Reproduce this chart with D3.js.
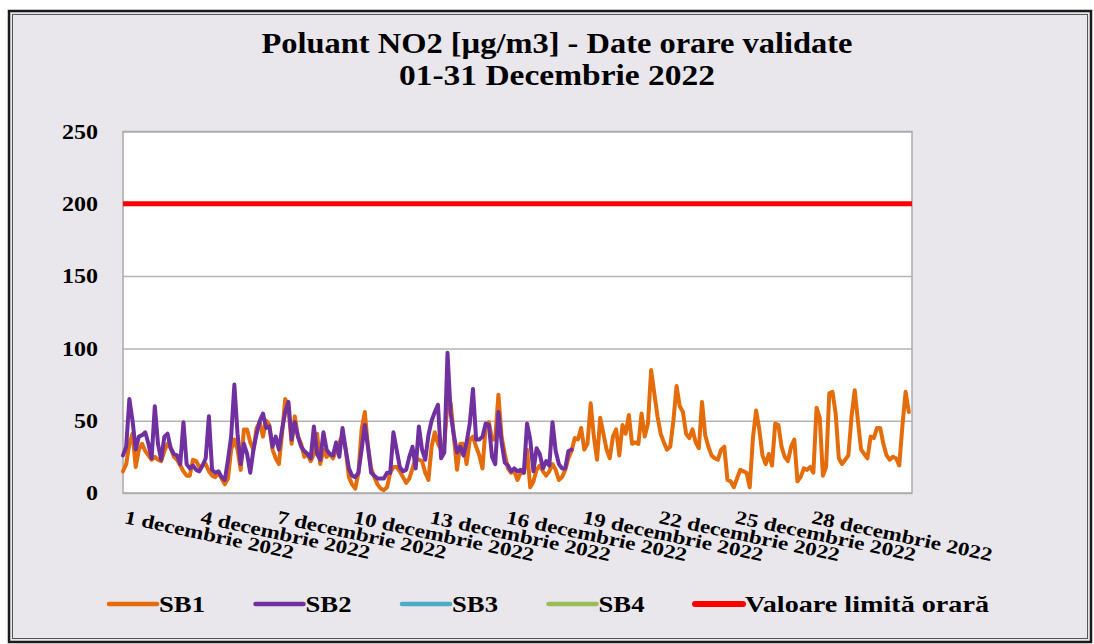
<!DOCTYPE html>
<html>
<head>
<meta charset="utf-8">
<script src="https://cdn.jsdelivr.net/npm/d3@7"></script>
<style>
  body { margin: 0; background: #fff; }
  text { font-family: "Liberation Serif", "Times New Roman", serif; font-weight: bold; fill: #000; }
</style>
</head>
<body>
<div id="chart"></div>
<script>
// chart data
var titleLines = ["Poluant NO2 [µg/m3] - Date orare validate", "01-31 Decembrie 2022"];
var seriesNames = ["SB1", "SB2", "SB3", "SB4"];
var seriesColors = ["#e46c0a", "#7030a0", "#4bacc6", "#9bbb59"];
var limitName = "Valoare limită orară";
var limitValue = 200;
var yTicks = [0, 50, 100, 150, 200, 250];
var tickDays = [1, 4, 7, 10, 13, 16, 19, 22, 25, 28];
var monthLabel = " decembrie 2022";
var startDate = new Date(2022, 11, 1), endDate = new Date(2023, 0, 1);
var stepHours = 3; // one value every 3 hours

var sb1 = [15, 20, 34, 41, 18, 30, 34, 29,
  26, 23, 25, 23, 22, 29, 34, 31,
  25, 23, 19, 15, 12, 12, 23, 22,
  18, 19, 20, 15, 12, 11, 14, 10,
  6, 10, 30, 37, 30, 16, 44, 44,
  35, 30, 45, 49, 39, 50, 47, 30,
  24, 20, 41, 65, 59, 34, 53, 39,
  34, 25, 27, 22, 27, 41, 20, 30,
  25, 27, 24, 29, 35, 40, 30, 11,
  6, 3, 14, 44, 56, 32, 17, 11,
  6, 3, 2, 4, 14, 18, 18, 15,
  11, 7, 10, 17, 24, 23, 22, 14,
  9, 32, 42, 34, 30, 34, 62, 62,
  39, 16, 34, 34, 20, 37, 39, 32,
  26, 17, 46, 49, 37, 37, 68, 39,
  27, 17, 14, 15, 9, 14, 14, 30,
  4, 8, 16, 19, 15, 12, 15, 20,
  16, 9, 11, 16, 24, 29, 38, 37,
  45, 30, 34, 62, 39, 23, 52, 41,
  30, 24, 39, 44, 26, 47, 41, 54,
  34, 35, 34, 55, 39, 48, 85, 69,
  53, 41, 35, 30, 32, 50, 74, 60,
  56, 41, 38, 44, 35, 31, 63, 40,
  32, 26, 24, 23, 30, 32, 9, 8,
  4, 10, 16, 15, 14, 4, 38, 57,
  44, 26, 20, 27, 19, 48, 47, 32,
  25, 22, 32, 37, 8, 11, 17, 16,
  18, 14, 59, 52, 12, 18, 69, 70,
  55, 24, 20, 23, 26, 53, 71, 50,
  30, 27, 24, 39, 38, 45, 45, 34,
  26, 23, 25, 24, 19, 47, 70, 56];

var sb2 = [26, 32, 65, 50, 30, 39, 40, 42,
  34, 24, 60, 34, 23, 39, 41, 31,
  27, 26, 20, 49, 20, 17, 19, 16,
  15, 19, 24, 53, 16, 14, 15, 11,
  9, 23, 39, 75, 41, 20, 34, 27,
  14, 30, 41, 50, 55, 45, 46, 32,
  39, 30, 44, 56, 63, 37, 49, 39,
  32, 29, 27, 24, 46, 27, 23, 42,
  30, 27, 26, 35, 25, 45, 30, 17,
  12, 11, 14, 30, 47, 32, 14, 12,
  10, 10, 10, 14, 14, 42, 30, 18,
  15, 16, 25, 32, 17, 46, 30, 23,
  40, 50, 56, 61, 24, 28, 97, 55,
  40, 28, 32, 26, 35, 48, 72, 37,
  37, 39, 48, 47, 25, 20, 56, 35,
  21, 19, 15, 17, 15, 16, 14, 48,
  37, 15, 31, 27, 17, 22, 19, 49,
  29, 20, 17, 17, 29, 30];

var sb3 = [];
var sb4 = [];

var W = 1094, H = 644;
var plot = {left: 123, top: 131.5, right: 912, bottom: 493};

var svg = d3.select("#chart").append("svg")
    .attr("width", W)
    .attr("height", H);

// frame and background
svg.append("rect")
    .attr("x", 9).attr("y", 11).attr("width", 1082).attr("height", 631)
    .attr("fill", "#e9e7eb").attr("stroke", "#1a1a1a").attr("stroke-width", 2.5);
svg.append("rect")
    .attr("x", 12.5).attr("y", 14.5).attr("width", 1075).attr("height", 624)
    .attr("fill", "none").attr("stroke", "#555").attr("stroke-width", 1);

// stretch text a bit wider, like the reference
function stretch(sel, k) {
  sel.each(function() {
    var w = this.getComputedTextLength();
    d3.select(this).attr("textLength", w * k).attr("lengthAdjust", "spacingAndGlyphs");
  });
}

// title
var titleWidths = [591, 316];
svg.selectAll(".title").data(titleLines).enter().append("text")
    .attr("class", "title")
    .attr("x", 557)
    .attr("y", function(d, i) { return 53 + i * 32; })
    .attr("text-anchor", "middle")
    .style("font-size", "30px")
    .attr("textLength", function(d, i) { return titleWidths[i]; })
    .attr("lengthAdjust", "spacingAndGlyphs")
    .text(function(d) { return d; });

// scales
var x = d3.scaleTime().domain([startDate, endDate]).range([plot.left, plot.right]);
var y = d3.scaleLinear().domain([0, 250]).range([plot.bottom, plot.top]);

function timeOf(i) { return d3.timeHour.offset(startDate, i * stepHours); }

// plot area
svg.append("rect")
    .attr("x", plot.left).attr("y", plot.top)
    .attr("width", plot.right - plot.left).attr("height", plot.bottom - plot.top)
    .attr("fill", "#fff");

// grid lines
var grid = svg.append("g")
    .attr("transform", "translate(" + plot.left + ",0)")
    .call(d3.axisLeft(y).tickValues(yTicks).tickSize(-(plot.right - plot.left)).tickFormat(""));
grid.select(".domain").remove();
grid.selectAll("line").attr("stroke", "#b4b4b4").attr("stroke-width", 1.5);

// plot border
svg.append("rect")
    .attr("x", plot.left).attr("y", plot.top)
    .attr("width", plot.right - plot.left).attr("height", plot.bottom - plot.top)
    .attr("fill", "none").attr("stroke", "#aaa").attr("stroke-width", 1.5);

// y axis labels
var yAxis = svg.append("g")
    .attr("transform", "translate(" + plot.left + ",0)")
    .call(d3.axisLeft(y).tickValues(yTicks).tickSize(0).tickPadding(25));
yAxis.select(".domain").remove();
yAxis.selectAll("text")
    .style("font-size", "20px")
    .style("font-family", "'Liberation Serif', serif")
    .attr("fill", "#000")
    .attr("dy", "0.34em");
stretch(yAxis.selectAll("text"), 1.2);

// x axis labels
var xAxis = svg.append("g")
    .attr("transform", "translate(0," + plot.bottom + ")")
    .call(d3.axisBottom(x)
      .tickValues(tickDays.map(function(d) { return new Date(2022, 11, d); }))
      .tickSize(0)
      .tickFormat(function(d) { return d.getDate() + monthLabel; }));
xAxis.select(".domain").remove();
xAxis.selectAll("text")
    .style("font-size", "19px")
    .style("font-family", "'Liberation Serif', serif")
    .attr("fill", "#000")
    .attr("y", 0).attr("dy", null)
    .attr("text-anchor", "start")
    .attr("transform", "translate(0,30) rotate(12)");
stretch(xAxis.selectAll("text"), 1.22);

// series lines
var line = d3.line()
    .defined(function(d) { return d != null; })
    .x(function(d, i) { return x(timeOf(i)); })
    .y(function(d) { return y(d); });

var allSeries = [sb1, sb2, sb3, sb4];
allSeries.forEach(function(s, k) {
  if (!s.length) return;
  svg.append("path")
      .datum(s)
      .attr("fill", "none")
      .attr("stroke", seriesColors[k])
      .attr("stroke-width", 4)
      .attr("stroke-linejoin", "round")
      .attr("stroke-linecap", "round")
      .attr("d", line);
});

// limit line
svg.append("line")
    .attr("x1", plot.left).attr("x2", plot.right)
    .attr("y1", y(limitValue)).attr("y2", y(limitValue))
    .attr("stroke", "#ff0000").attr("stroke-width", 5);

// legend
var legendItems = seriesNames.map(function(n, i) { return {name: n, color: seriesColors[i], w: 4.5, len: 46}; });
legendItems.push({name: limitName, color: "#ff0000", w: 6, len: 244});

var legend = svg.selectAll(".legend").data(legendItems).enter().append("g")
    .attr("class", "legend")
    .attr("transform", function(d, i) { return "translate(" + (109 + i * 146.5) + ",604)"; });
legend.append("line")
    .attr("x1", 0).attr("x2", 48)
    .attr("stroke", function(d) { return d.color; })
    .attr("stroke-width", function(d) { return d.w; })
    .attr("stroke-linecap", "round");
legend.append("text")
    .attr("x", 50).attr("y", 8)
    .style("font-size", "23px")
    .attr("textLength", function(d) { return d.len; })
    .attr("lengthAdjust", "spacingAndGlyphs")
    .text(function(d) { return d.name; });
</script>
</body>
</html>
